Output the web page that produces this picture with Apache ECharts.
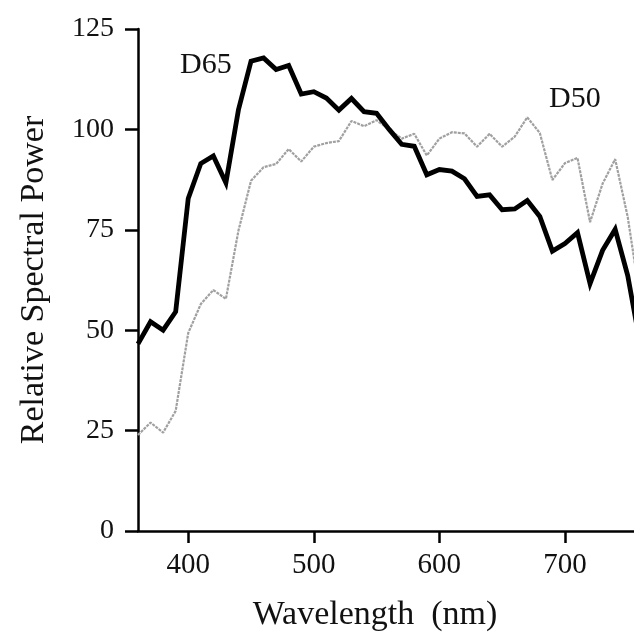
<!DOCTYPE html>
<html>
<head>
    <meta charset="UTF-8">
    <title>D65 / D50</title>
    <script src="https://cdn.jsdelivr.net/npm/echarts@6/dist/echarts.min.js"></script>
    <style>
        html, body { margin: 0; padding: 0; background: #fff; }
        #chart { width: 634px; height: 642px; }
    </style>
</head>
<body>
<div id="chart"></div>
<script>
    // wavelengths (nm), 10 nm steps
    var wavelengths = [360, 370, 380, 390, 400, 410, 420, 430, 440, 450, 460, 470, 480, 490, 500,
        510, 520, 530, 540, 550, 560, 570, 580, 590, 600, 610, 620, 630, 640, 650, 660,
        670, 680, 690, 700, 710, 720, 730, 740, 750, 760];
    var d65 = [46.6, 52.1, 50.0, 54.6, 82.8, 91.5, 93.4, 86.7, 104.9, 117.0, 117.8, 114.9, 115.9, 108.8, 109.4,
        107.8, 104.8, 107.7, 104.4, 104.0, 100.0, 96.3, 95.8, 88.7, 90.0, 89.6, 87.7, 83.3, 83.7, 80.0, 80.2,
        82.3, 78.3, 69.7, 71.6, 74.3, 61.6, 69.9, 75.1, 63.6, 46.4];
    var d50 = [23.9, 27.0, 24.5, 29.9, 49.3, 56.5, 60.0, 57.8, 74.8, 87.2, 90.6, 91.4, 95.1, 92.0, 95.7,
        96.6, 97.1, 102.1, 100.8, 102.3, 100.0, 97.7, 98.9, 93.5, 97.7, 99.3, 99.0, 95.7, 98.9, 95.7, 98.2,
        103.0, 99.1, 87.4, 91.6, 92.9, 76.9, 86.5, 92.6, 78.2, 57.7];
    var xTicks = [400, 500, 600, 700];

    function pairs(xs, ys) {
        return xs.map(function (x, i) { return [x, ys[i]]; });
    }

    var font = 'Liberation Serif';
    var chart = echarts.init(document.getElementById('chart'));

    var option = {
        backgroundColor: '#fff',
        animation: false,
        grid: { left: 138, right: 0, top: 29, bottom: 111, containLabel: false },
        xAxis: {
            type: 'value',
            min: 360,
            max: 755,
            name: 'Wavelength  (nm)',
            nameLocation: 'middle',
            nameGap: 67,
            nameTextStyle: { fontFamily: font, fontSize: 34, color: '#111', padding: [0, 22, 0, 0] },
            axisLine: { show: true, lineStyle: { color: '#000', width: 2.5 } },
            axisTick: { show: true, length: 12, customValues: xTicks, lineStyle: { color: '#000', width: 2.5 } },
            axisLabel: { customValues: xTicks, margin: 20, fontFamily: font, fontSize: 29, color: '#111' },
            splitLine: { show: false }
        },
        yAxis: {
            type: 'value',
            min: 0,
            max: 125,
            interval: 25,
            name: 'Relative Spectral Power',
            nameLocation: 'middle',
            nameGap: 87,
            nameTextStyle: { fontFamily: font, fontSize: 34, color: '#111' },
            axisLine: { show: true, lineStyle: { color: '#000', width: 2.5 } },
            axisTick: { show: true, length: 13, lineStyle: { color: '#000', width: 2.5 } },
            axisLabel: { margin: 24, fontFamily: font, fontSize: 28, color: '#111' },
            splitLine: { show: false }
        },
        graphic: [
            { type: 'text', left: 180, top: 50, style: { text: 'D65', font: '30px "Liberation Serif"', fill: '#111' } },
            { type: 'text', left: 549, top: 84, style: { text: 'D50', font: '30px "Liberation Serif"', fill: '#111' } }
        ],
        series: [
            {
                name: 'D50',
                type: 'line',
                data: pairs(wavelengths, d50),
                showSymbol: false,
                lineStyle: { color: '#a0a0a0', width: 2.2, type: [3, 1] },
                z: 2
            },
            {
                name: 'D65',
                type: 'line',
                data: pairs(wavelengths, d65),
                showSymbol: false,
                lineStyle: { color: '#000', width: 4.8, join: 'miter' },
                z: 3
            }
        ]
    };

    chart.setOption(option);
</script>
</body>
</html>
